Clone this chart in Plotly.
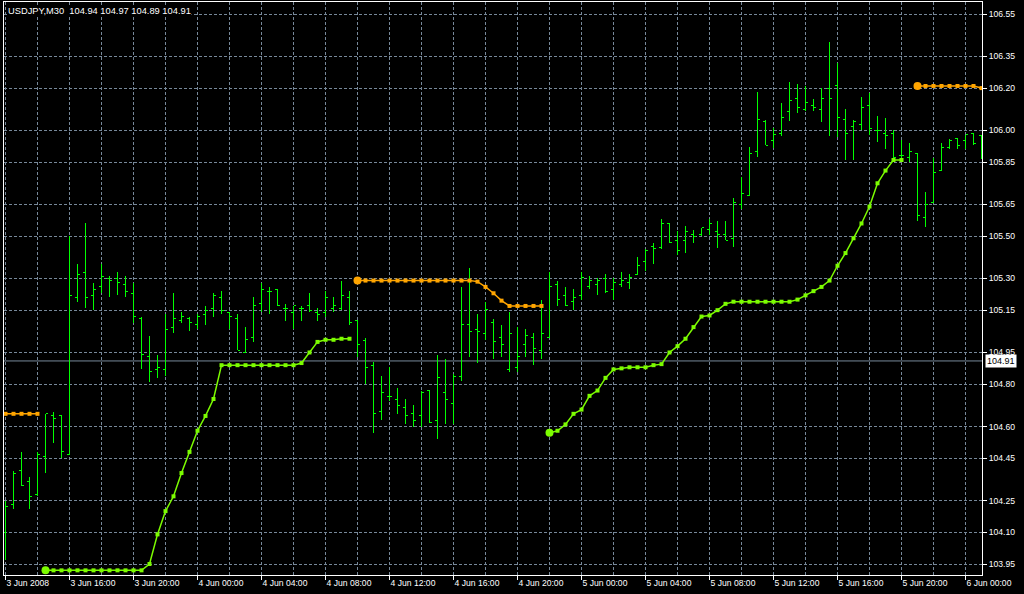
import pandas as pd
import plotly.graph_objects as go

# ---------------- data ----------------
symbol_name = "USDJPY,M30"
title_ohlc = [104.94, 104.97, 104.89, 104.91]
first_bar_time = "2008-06-03 12:00"
bid_price = 104.91

bar_open = [104.10, 104.23, 104.39, 104.34, 104.28, 104.46, 104.65, 104.65, 104.47, 105.21,
            105.33, 105.22, 105.26, 105.30, 105.30, 105.27, 105.23, 105.11, 104.93, 104.87,
            104.87, 105.07, 105.10, 105.11, 105.08, 105.13, 105.16, 105.21, 105.14, 105.11,
            104.95, 105.02, 105.18, 105.24, 105.25, 105.16, 105.14, 105.16, 105.17, 105.14,
            105.14, 105.16, 105.16, 105.21, 105.10, 105.005, 104.89, 104.67, 104.74, 104.73,
            104.69, 104.66, 104.65, 104.77, 104.63, 104.76, 104.71, 104.835, 105.08, 105.06,
            105.04, 105.09, 105.02, 104.87, 104.88, 104.99, 105.02, 104.96, 105.02, 105.27,
            105.22, 105.19, 105.22, 105.26, 105.27, 105.30, 105.25, 105.27, 105.28, 105.32,
            105.38, 105.45, 105.445, 105.56, 105.48, 105.48, 105.51, 105.51, 105.53, 105.52,
            105.51, 105.49, 105.65, 105.69, 105.90, 106.04, 105.95, 105.985, 106.09, 106.15,
            106.10, 106.12, 106.10, 106.20, 106.21, 106.05, 106.02, 106.03, 106.12, 106.00,
            105.985, 105.985, 105.88, 105.87, 105.89, 105.59, 105.66, 105.81, 105.92, 105.96,
            105.95, 105.985, 105.975]
bar_high = [104.25, 104.39, 104.48, 104.36, 104.48, 104.66, 104.67, 104.65, 105.50, 105.37,
            105.56, 105.28, 105.37, 105.31, 105.33, 105.31, 105.28, 105.12, 105.03, 104.94,
            105.13, 105.23, 105.14, 105.12, 105.13, 105.17, 105.23, 105.24, 105.14, 105.13,
            105.07, 105.21, 105.28, 105.26, 105.25, 105.18, 105.17, 105.17, 105.23, 105.16,
            105.24, 105.21, 105.29, 105.24, 105.10, 105.02, 104.905, 104.84, 104.88, 104.78,
            104.73, 104.70, 104.77, 104.77, 104.94, 104.92, 104.85, 105.26, 105.35, 105.13,
            105.19, 105.11, 105.08, 105.14, 105.07, 105.06, 105.04, 105.20, 105.33, 105.29,
            105.26, 105.25, 105.33, 105.31, 105.30, 105.32, 105.30, 105.33, 105.32, 105.40,
            105.44, 105.47, 105.58, 105.56, 105.525, 105.55, 105.53, 105.54, 105.58, 105.57,
            105.57, 105.68, 105.78, 105.92, 106.18, 106.05, 106.01, 106.13, 106.23, 106.22,
            106.21, 106.15, 106.20, 106.42, 106.32, 106.10, 106.05, 106.16, 106.175, 106.07,
            106.06, 106.00, 105.955, 105.94, 105.89, 105.71, 105.87, 105.94, 105.96, 105.96,
            105.98, 105.985, 105.976]
bar_low = [103.97, 104.21, 104.32, 104.21, 104.27, 104.38, 104.52, 104.45, 104.47, 105.19,
           105.16, 105.15, 105.23, 105.21, 105.22, 105.21, 105.09, 104.87, 104.81, 104.83,
           104.84, 105.04, 105.09, 105.05, 105.06, 105.08, 105.12, 105.13, 105.06, 104.96,
           104.95, 105.00, 105.14, 105.13, 105.17, 105.10, 105.06, 105.10, 105.14, 105.10,
           105.12, 105.14, 105.15, 105.08, 104.93, 104.80, 104.57, 104.63, 104.72, 104.66,
           104.61, 104.60, 104.60, 104.615, 104.54, 104.61, 104.61, 104.815, 104.93, 104.90,
           105.01, 104.92, 104.93, 104.86, 104.86, 104.93, 104.89, 104.92, 105.02, 105.17,
           105.17, 105.15, 105.20, 105.25, 105.22, 105.23, 105.20, 105.26, 105.25, 105.32,
           105.335, 105.37, 105.44, 105.47, 105.41, 105.42, 105.47, 105.50, 105.505, 105.445,
           105.48, 105.45, 105.63, 105.69, 105.875, 105.93, 105.915, 105.975, 106.045, 106.08,
           106.09, 106.09, 106.04, 105.975, 105.97, 105.86, 105.86, 106.00, 105.98, 105.945,
           105.91, 105.85, 105.85, 105.85, 105.57, 105.545, 105.66, 105.81, 105.91, 105.91,
           105.91, 105.93, 105.865]
bar_close = [104.22, 104.38, 104.32, 104.27, 104.47, 104.66, 104.64, 104.48, 105.22, 105.32,
             105.21, 105.25, 105.31, 105.29, 105.28, 105.24, 105.12, 104.94, 104.86, 104.88,
             105.06, 105.11, 105.12, 105.09, 105.12, 105.15, 105.22, 105.15, 105.12, 104.96,
             105.01, 105.17, 105.25, 105.24, 105.17, 105.16, 105.17, 105.16, 105.15, 105.13,
             105.21, 105.17, 105.22, 105.09, 104.99, 104.88, 104.66, 104.76, 104.74, 104.70,
             104.65, 104.63, 104.76, 104.62, 104.83, 104.73, 104.835, 105.08, 105.05, 105.05,
             105.155, 105.00, 104.99, 105.04, 104.93, 105.03, 104.97, 105.04, 105.26, 105.20,
             105.17, 105.21, 105.305, 105.29, 105.29, 105.24, 105.28, 105.29, 105.305, 105.36,
             105.43, 105.44, 105.56, 105.47, 105.43, 105.52, 105.50, 105.54, 105.56, 105.51,
             105.48, 105.66, 105.70, 105.89, 106.05, 105.93, 105.98, 106.06, 106.14, 106.11,
             106.13, 106.11, 106.15, 106.15, 106.06, 105.985, 106.04, 106.11, 106.01, 106.00,
             105.975, 105.87, 105.88, 105.90, 105.60, 105.65, 105.80, 105.92, 105.95, 105.93,
             105.98, 105.94, 105.90]

# resistance (orange) segments: first bar index and values
res_a_start = 0
res_a = [104.66, 104.66, 104.66, 104.66, 104.66]
res_b_start = 44
res_b = [105.29, 105.29, 105.29, 105.29, 105.29, 105.29, 105.29, 105.29, 105.29, 105.29,
         105.29, 105.29, 105.29, 105.29, 105.29, 105.285, 105.26, 105.23, 105.195, 105.17,
         105.17, 105.17, 105.17, 105.17]
res_c_start = 114
res_c = [106.21, 106.21, 106.21, 106.21, 106.21, 106.21, 106.21, 106.21, 106.20]

# support (green) segments
sup_a_start = 5
sup_a = [103.92, 103.92, 103.92, 103.92, 103.92, 103.92, 103.92, 103.92, 103.92, 103.92,
         103.92, 103.92, 103.92, 103.95, 104.09, 104.20, 104.27, 104.38, 104.48, 104.58,
         104.65, 104.73, 104.89, 104.89, 104.89, 104.89, 104.89, 104.89, 104.89, 104.89,
         104.89, 104.89, 104.90, 104.95, 105.00, 105.01, 105.01, 105.015, 105.015]
sup_b_start = 68
sup_b = [104.57, 104.58, 104.61, 104.66, 104.68, 104.745, 104.77, 104.83, 104.87, 104.875,
         104.88, 104.88, 104.88, 104.89, 104.895, 104.95, 104.98, 105.015, 105.07, 105.12,
         105.125, 105.15, 105.18, 105.19, 105.19, 105.19, 105.19, 105.19, 105.19, 105.19,
         105.19, 105.20, 105.22, 105.24, 105.26, 105.29, 105.36, 105.42, 105.49, 105.56,
         105.64, 105.75, 105.81, 105.86, 105.86]
res_segments_with_start_dot = [False, True, True]
sup_segments_with_start_dot = [True, True]

y_tick_values = [106.55, 106.35, 106.20, 106.00, 105.85, 105.65, 105.50, 105.30, 105.15,
                 104.95, 104.80, 104.60, 104.45, 104.25, 104.10, 103.95]
x_tick_times = ["2008-06-03 12:00", "2008-06-03 16:00", "2008-06-03 20:00",
                "2008-06-04 00:00", "2008-06-04 04:00", "2008-06-04 08:00",
                "2008-06-04 12:00", "2008-06-04 16:00", "2008-06-04 20:00",
                "2008-06-05 00:00", "2008-06-05 04:00", "2008-06-05 08:00",
                "2008-06-05 12:00", "2008-06-05 16:00", "2008-06-05 20:00",
                "2008-06-06 00:00"]
x_tick_labels = ["3 Jun 2008", "3 Jun 16:00", "3 Jun 20:00", "4 Jun 00:00", "4 Jun 04:00",
                 "4 Jun 08:00", "4 Jun 12:00", "4 Jun 16:00", "4 Jun 20:00", "5 Jun 00:00",
                 "5 Jun 04:00", "5 Jun 08:00", "5 Jun 12:00", "5 Jun 16:00", "5 Jun 20:00",
                 "6 Jun 00:00"]

# ---------------- styles ----------------
BAR_COLOR = "#00ff00"
SUP_COLOR = "#7cfc00"
RES_COLOR = "#ffa500"
GRID_COLOR = "#778899"
FONT = "Liberation Sans, Arial, sans-serif"
NB = "\u00a0"

times = pd.date_range(first_bar_time, periods=len(bar_open), freq="30min")
idx = list(range(len(times)))
tick_pos = [times.get_loc(pd.Timestamp(t)) for t in x_tick_times]
minor_pos = [i for i, t in enumerate(times) if t.minute == 0 and t.hour % 2 == 0 and i not in tick_pos]

fig = go.Figure()
fig.add_trace(go.Ohlc(
    x=idx, open=bar_open, high=bar_high, low=bar_low, close=bar_close,
    increasing=dict(line=dict(color=BAR_COLOR, width=1)),
    decreasing=dict(line=dict(color=BAR_COLOR, width=1)),
    tickwidth=0.35, showlegend=False, hoverinfo="skip"))


def add_segment(start, vals, color, dot):
    xs = list(range(start, start + len(vals)))
    fig.add_trace(go.Scatter(x=xs, y=vals, mode="lines+markers",
                             line=dict(color=color, width=1.5),
                             marker=dict(symbol="square", size=4, color=color),
                             showlegend=False, hoverinfo="skip"))
    if dot:
        fig.add_trace(go.Scatter(x=[xs[0]], y=[vals[0]], mode="markers",
                                 marker=dict(symbol="circle", size=8, color=color),
                                 showlegend=False, hoverinfo="skip"))


for (s, v), d in zip([(res_a_start, res_a), (res_b_start, res_b), (res_c_start, res_c)],
                     res_segments_with_start_dot):
    add_segment(s, v, RES_COLOR, d)
for (s, v), d in zip([(sup_a_start, sup_a), (sup_b_start, sup_b)], sup_segments_with_start_dot):
    add_segment(s, v, SUP_COLOR, d)

# bid line
fig.add_shape(type="line", xref="paper", x0=0, x1=1, yref="y", y0=bid_price, y1=bid_price,
              line=dict(color=GRID_COLOR, width=1), layer="below")

fig.add_annotation(xref="paper", x=1, xshift=3, xanchor="left", yref="y", y=bid_price,
                   text=f"{bid_price:.2f}", showarrow=False, bgcolor="#ffffff",
                   font=dict(color="#000000", size=9, family=FONT), borderpad=1)

title_text = symbol_name + NB * 2 + NB.join(f"{v:.2f}" for v in title_ohlc)
fig.add_annotation(xref="paper", x=0, xshift=3, xanchor="left", yref="paper", y=1, yshift=-3,
                   yanchor="top", text=title_text, showarrow=False, bgcolor="#000000",
                   font=dict(color="#ffffff", size=9.3, family=FONT), borderpad=0)

fig.update_layout(
    width=1024, height=594,
    margin=dict(l=4, r=42, t=2, b=19),
    paper_bgcolor="#000000", plot_bgcolor="#000000",
    showlegend=False,
    xaxis=dict(range=[-0.1875, len(idx) - 0.9375], tickvals=tick_pos, ticktext=x_tick_labels,
               ticks="outside", ticklen=4, tickcolor="#ffffff",
               ticklabelposition="outside right",
               tickfont=dict(color="#ffffff", size=8.6, family=FONT),
               showgrid=True, gridcolor=GRID_COLOR, griddash="3px,2px", gridwidth=1,
               minor=dict(tickvals=minor_pos, showgrid=True, gridcolor=GRID_COLOR,
                          griddash="3px,2px", ticklen=0),
               showline=True, linecolor="#ffffff", linewidth=1, mirror=True,
               zeroline=False, rangeslider=dict(visible=False), fixedrange=True),
    yaxis=dict(side="right", range=[103.898, 106.607], tickvals=y_tick_values,
               ticktext=[f"{v:.2f}" for v in y_tick_values],
               ticks="outside", ticklen=4, tickcolor="#ffffff",
               tickfont=dict(color="#ffffff", size=8.6, family=FONT),
               showgrid=True, gridcolor=GRID_COLOR, griddash="3px,2px", gridwidth=1,
               showline=True, linecolor="#ffffff", linewidth=1, mirror=True,
               zeroline=False, fixedrange=True),
)

fig.write_html("out.html",
               config={"displayModeBar": False, "staticPlot": True},
               post_script="document.documentElement.style.margin='0';"
                           "document.body.style.margin='0';"
                           "document.body.style.overflow='hidden';"
                           "document.querySelectorAll('.ohlc path').forEach(function(p){"
                           "p.style.shapeRendering='crispEdges';});")
